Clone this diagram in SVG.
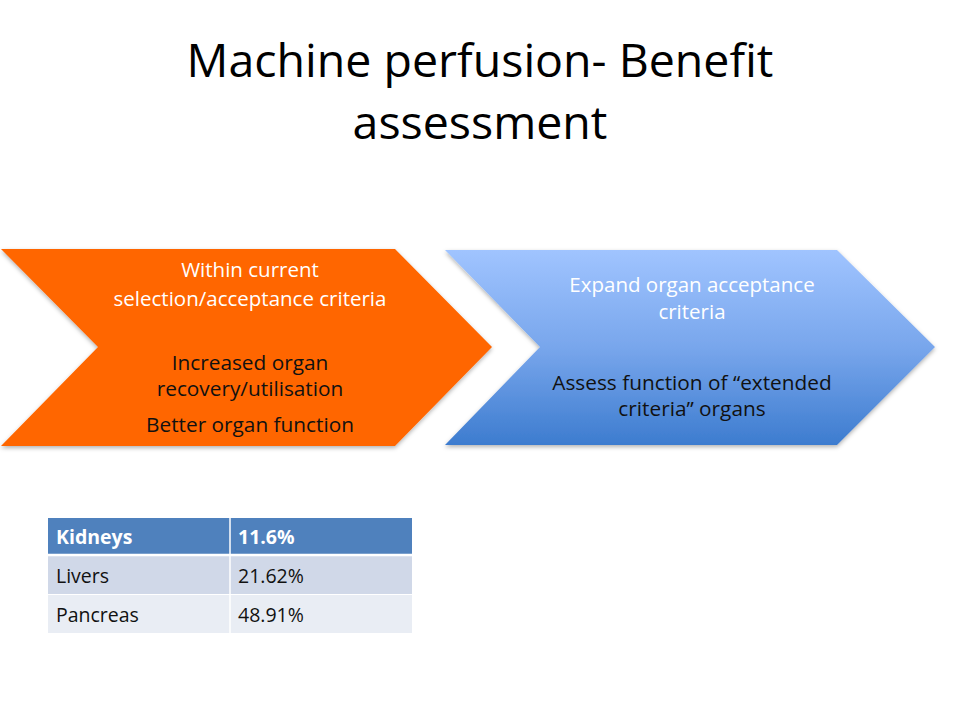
<svg xmlns="http://www.w3.org/2000/svg" width="960" height="720" viewBox="0 0 960 720">
<defs>
<linearGradient id="blueGrad" x1="0" y1="0" x2="0" y2="1">
<stop offset="0" stop-color="#A0C4FF"/>
<stop offset="0.5" stop-color="#78A6EC"/>
<stop offset="1" stop-color="#3D7CCF"/>
</linearGradient>
<filter id="shadow" x="-5%" y="-5%" width="110%" height="115%">
<feDropShadow dx="0" dy="2" stdDeviation="2" flood-color="#000" flood-opacity="0.3"/>
</filter>
<style>
text { font-family: "Open Sans", "Liberation Sans", sans-serif; }
.title { font-size: 46.5px; fill: #000; text-anchor: middle; }
.w { fill: #fff; font-size: 20.5px; text-anchor: middle; }
.d { fill: #111; font-size: 20.8px; text-anchor: middle; }
.cell { font-size: 19.5px; fill: #111; }
.hdr { font-size: 19.5px; fill: #fff; font-weight: bold; }
</style>
</defs>
<rect width="960" height="720" fill="#fff"/>
<g id="title">
<text class="title" x="480" y="77">Machine perfusion- Benefit</text>
<text class="title" x="480" y="139">assessment</text>
</g>
<g id="chevron-current">
<polygon points="1,249 395,249 492,347 395,446 1,446 98,347" fill="#FF6600" filter="url(#shadow)"/>
<text class="w" x="250" y="277">Within current</text>
<text class="w" x="250" y="306">selection/acceptance criteria</text>
<text class="d" x="250" y="370">Increased organ</text>
<text class="d" x="250" y="396">recovery/utilisation</text>
<text class="d" x="250" y="432">Better organ function</text>
</g>
<g id="chevron-expand">
<polygon points="445,250 837,250 935,347 837,445 445,445 540,347" fill="url(#blueGrad)" filter="url(#shadow)"/>
<text class="w" x="692" y="292">Expand organ acceptance</text>
<text class="w" x="692" y="319">criteria</text>
<text class="d" x="692" y="390">Assess function of “extended</text>
<text class="d" x="692" y="416">criteria” organs</text>
</g>
<g id="connectors"></g>
<g id="table">
<rect x="48" y="518" width="364" height="37" fill="#4F81BD"/>
<rect x="48" y="556" width="364" height="38" fill="#D0D8E8"/>
<rect x="48" y="595" width="364" height="38" fill="#E9EDF4"/>
<line x1="230" y1="518" x2="230" y2="633" stroke="#fff" stroke-width="1.5"/>
<line x1="48" y1="555" x2="412" y2="555" stroke="#fff" stroke-width="2.5"/>
<line x1="48" y1="594.5" x2="412" y2="594.5" stroke="#fff" stroke-width="1"/>
<text class="hdr" x="56" y="544">Kidneys</text>
<text class="hdr" x="238" y="544">11.6%</text>
<text class="cell" x="56" y="583">Livers</text>
<text class="cell" x="238" y="583">21.62%</text>
<text class="cell" x="56" y="622">Pancreas</text>
<text class="cell" x="238" y="622">48.91%</text>
</g>
</svg>
